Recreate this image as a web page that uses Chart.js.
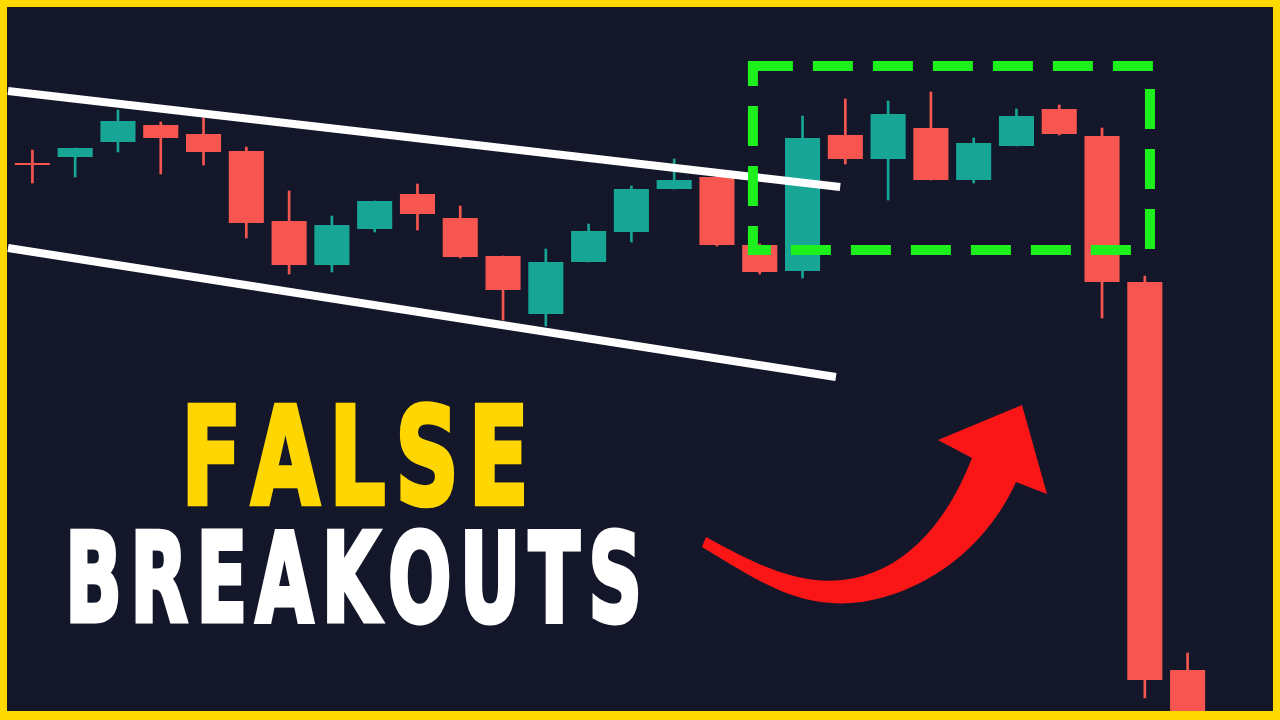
<!DOCTYPE html>
<html>
<head>
<meta charset="utf-8">
<title>False Breakouts</title>
<script src="https://cdn.jsdelivr.net/npm/chart.js@4.4.1/dist/chart.umd.min.js"></script>
<style>
  html, body { margin: 0; padding: 0; background: #131729; }
  #wrap { width: 1280px; height: 720px; }
</style>
</head>
<body>
<div id="wrap"><canvas id="chart" width="1280" height="720"></canvas></div>
<script>
// Candle data
const labels = ['1', '2', '3', '4', '5', '6', '7', '8', '9', '10', '11', '12', '13', '14',
    '15', '16', '17', '18', '19', '20', '21', '22', '23', '24', '25', '26', '27', '28'];
const opens  = [139.25, 140.75, 144.5, 148.75, 146.5, 142.25, 124.75, 113.75, 122.75, 131.5, 125.5, 116, 101.5, 114.5,
    122, 132.75, 135.75, 118.75, 112.25, 146.25, 140.25, 148, 135, 143.5, 152.75, 146, 109.5, 12.5];
const highs  = [142.5, 143, 152.5, 149.5, 150.5, 143.25, 132.25, 126, 129.75, 134, 128.5, 116, 117.75, 124,
    133.5, 140.25, 136, 119, 151, 155.25, 154.75, 157, 145.5, 152.75, 153.75, 148, 111, 16.75];
const lows   = [134.25, 135.75, 142, 136.5, 138.75, 120.5, 111.5, 112, 122, 122.5, 115.5, 100, 98.5, 114.5,
    119.5, 132.75, 118.5, 111.5, 110.5, 139, 130, 135, 134.25, 143.5, 146.25, 100.5, 5.5, -10];
const closes = [138.75, 143, 149.75, 145.5, 142, 124.25, 113.75, 123.75, 129.75, 126.5, 115.75, 107.5, 114.5, 122.25,
    132.75, 135, 118.75, 112, 145.5, 140.25, 151.5, 135, 144.25, 151, 146.5, 109.5, 10, -5];

// Drawn-on annotations, in data units (candle index, price)
const upperTrend = [[-0.57, 157.25], [18.88, 133.25]];
const lowerTrend = [[-0.57, 118], [18.78, 85.75]];
const rangeBoxX = [16.84, 26.12];
const rangeBoxY = [117.5, 163.5];

const UP = '#17a596';
const DOWN = '#f6564f';
const candleColors = closes.map((c, i) => c >= opens[i] ? UP : DOWN);

const background = {
    id: 'background',
    beforeDraw(chart) {
        const ctx = chart.ctx;
        ctx.save();
        ctx.fillStyle = '#131729';
        ctx.fillRect(0, 0, chart.width, chart.height);
        ctx.restore();
    }
};

// heavy spaced caption, squeezed to fit between x0 and x1
function drawWord(ctx, text, x0, x1, baseline, cap, color) {
    const weight = 3;
    const size = (cap - weight) / 0.729;
    ctx.font = `bold ${size}px "DejaVu Sans", "Liberation Sans", sans-serif`;
    const gap = cap * 0.09;
    const chars = [...text];
    const advs = chars.map(ch => ctx.measureText(ch).width);
    const total = advs.reduce((a, b) => a + b, 0);
    const sx = (x1 - x0 - gap * (chars.length - 1)) / total;
    let x = x0;
    ctx.fillStyle = color;
    ctx.strokeStyle = color;
    ctx.lineJoin = 'miter';
    ctx.textBaseline = 'alphabetic';
    chars.forEach((ch, i) => {
        ctx.save();
        ctx.translate(x, baseline - weight / 2);
        ctx.scale(sx, 1);
        ctx.fillText(ch, 0, 0);
        ctx.lineWidth = weight / sx;
        ctx.strokeText(ch, 0, 0);
        ctx.restore();
        x += advs[i] * sx + gap;
    });
}

const overlays = {
    id: 'overlays',
    afterDatasetsDraw(chart) {
        const ctx = chart.ctx;
        const xs = chart.scales.x;
        const ys = chart.scales.y;
        const px = v => xs.getPixelForValue(v);
        const py = v => ys.getPixelForValue(v);

        ctx.save();

        // White channel lines
        ctx.strokeStyle = '#ffffff';
        ctx.lineWidth = 8;
        ctx.lineCap = 'butt';
        [upperTrend, lowerTrend].forEach(l => {
            ctx.beginPath();
            ctx.moveTo(px(l[0][0]), py(l[0][1]));
            ctx.lineTo(px(l[1][0]), py(l[1][1]));
            ctx.stroke();
        });

        // Green dashed range box
        const bx0 = px(rangeBoxX[0]), bx1 = px(rangeBoxX[1]);
        const by0 = py(rangeBoxY[1]), by1 = py(rangeBoxY[0]);
        ctx.strokeStyle = '#1df01c';
        ctx.lineWidth = 10;
        ctx.setLineDash([40, 20]);
        const seg = (x0, y0, x1, y1, off) => {
            ctx.lineDashOffset = off;
            ctx.beginPath();
            ctx.moveTo(x0, y0);
            ctx.lineTo(x1, y1);
            ctx.stroke();
        };
        seg(bx0, by0, bx1 + 5, by0, 0);
        seg(bx0, by0 - 5, bx0, by1 + 5, 15);
        seg(bx0 - 5, by1, bx1 - 18, by1, 17);
        seg(bx1, by0 + 3, bx1, by1, 40);
        ctx.setLineDash([]);

        // Red curved arrow
        ctx.fillStyle = '#fa1616';
        ctx.beginPath();
        ctx.moveTo(702, 547);
        ctx.bezierCurveTo(760, 582, 800, 610, 862, 602);
        ctx.bezierCurveTo(935, 590, 990, 540, 1016, 482);
        ctx.lineTo(1047, 494);
        ctx.lineTo(1022, 405);
        ctx.lineTo(938, 440);
        ctx.lineTo(972, 458);
        ctx.bezierCurveTo(945, 528, 900, 574, 842, 580);
        ctx.bezierCurveTo(795, 585, 752, 562, 706, 537);
        ctx.closePath();
        ctx.fill();

        // Title text
        drawWord(ctx, 'FALSE', 181, 529, 505, 102, '#ffd600');
        drawWord(ctx, 'BREAKOUTS', 65, 642, 622, 92, '#ffffff');

        ctx.restore();
    },
    afterDraw(chart) {
        const ctx = chart.ctx;
        const w = chart.width, h = chart.height;
        ctx.save();
        ctx.fillStyle = '#ffd800';
        ctx.fillRect(0, 0, w, 7);
        ctx.fillRect(0, 0, 7, h);
        ctx.fillRect(w - 7, 0, 7, h);
        ctx.fillRect(0, h - 9, w, 9);
        ctx.restore();
    }
};

new Chart(document.getElementById('chart'), {
    type: 'bar',
    data: {
        labels: labels,
        datasets: [
            {
                label: 'Body',
                data: opens.map((o, i) => [o, closes[i]]),
                backgroundColor: candleColors,
                borderWidth: 0,
                borderSkipped: false,
                grouped: false,
                barPercentage: 0.82,
                categoryPercentage: 1,
                order: 0
            },
            {
                label: 'Wick',
                data: lows.map((l, i) => [l, highs[i]]),
                backgroundColor: candleColors,
                borderWidth: 0,
                borderSkipped: false,
                grouped: false,
                barThickness: 2,
                order: 1
            }
        ]
    },
    options: {
        responsive: false,
        devicePixelRatio: 1,
        animation: false,
        layout: { padding: { left: 11, right: 71, top: 0, bottom: 0 } },
        plugins: {
            legend: { display: false },
            tooltip: { enabled: false }
        },
        scales: {
            x: { display: false, offset: true },
            y: { display: false, min: 0, max: 180 }
        }
    },
    plugins: [background, overlays]
});
</script>
</body>
</html>
